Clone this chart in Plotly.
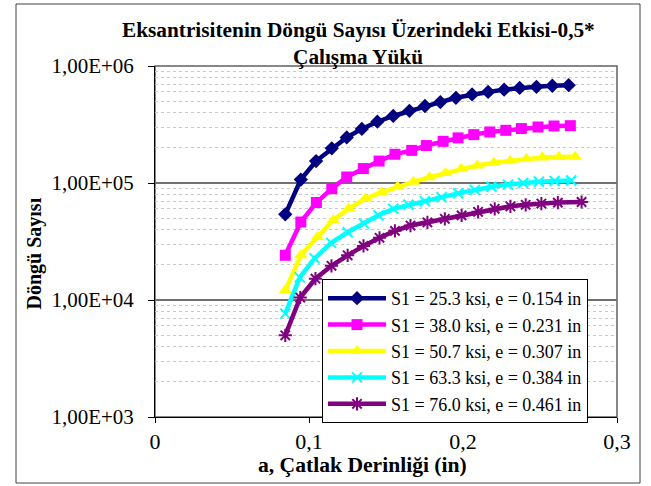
import plotly.graph_objects as go

# ---- data ----
series_names = [
    "S1 = 25.3 ksi, e = 0.154 in",
    "S1 = 38.0 ksi, e = 0.231 in",
    "S1 = 50.7 ksi, e = 0.307 in",
    "S1 = 63.3 ksi, e = 0.384 in",
    "S1 = 76.0 ksi, e = 0.461 in",
]

a_s1 = [0.0846, 0.0947, 0.1046, 0.1148, 0.1245, 0.1343, 0.1444, 0.1547, 0.1652, 0.1753,
        0.1853, 0.1954, 0.2059, 0.2163, 0.2267, 0.2368, 0.2477, 0.2580, 0.2686]
n_s1 = [54000, 107000, 154000, 198000, 245000, 290000, 334000, 374000, 414000, 455000,
        492000, 535000, 572000, 600000, 628000, 650000, 664000, 678000, 686000]

a_s2 = [0.0846, 0.0947, 0.1048, 0.1148, 0.1245, 0.1353, 0.1455, 0.1558, 0.1667, 0.1762,
        0.1871, 0.1968, 0.2070, 0.2174, 0.2278, 0.2379, 0.2487, 0.2591, 0.2697]
n_s2 = [24100, 46400, 68100, 89500, 112500, 132800, 154000, 176000, 190000, 209000,
        227000, 243000, 259000, 273000, 282000, 292000, 301000, 307000, 309000]

a_s3 = [0.0846, 0.0947, 0.1055, 0.1157, 0.1258, 0.1366, 0.1471, 0.1575, 0.1678, 0.1782,
        0.1886, 0.1989, 0.2093, 0.2200, 0.2307, 0.2412, 0.2515, 0.2623, 0.2729]
n_s3 = [12100, 24100, 34500, 48000, 60400, 73600, 83300, 92800, 102400, 111900,
        121700, 132200, 141200, 148900, 154800, 161000, 164800, 166800, 167500]

a_s4 = [0.0846, 0.0940, 0.1037, 0.1144, 0.1251, 0.1357, 0.1451, 0.1547, 0.1646, 0.1753,
        0.1861, 0.1969, 0.2077, 0.2185, 0.2292, 0.2390, 0.2493, 0.2595, 0.2703]
n_s4 = [7650, 15600, 22700, 30800, 37900, 45000, 52900, 60200, 65100, 69800,
        75500, 81600, 87400, 92800, 96900, 100000, 102400, 104000, 104900]

a_s5 = [0.0846, 0.0943, 0.1042, 0.1146, 0.1251, 0.1354, 0.1458, 0.1558, 0.1659, 0.1769,
        0.1882, 0.1991, 0.2098, 0.2206, 0.2308, 0.2407, 0.2509, 0.2616, 0.2770]
n_s5 = [4990, 10500, 15200, 19600, 24100, 29000, 34000, 39000, 43300, 46100,
        49400, 52900, 56700, 60200, 63200, 65100, 66700, 68000, 68800]

x_tickvals = [0, 0.1, 0.2, 0.3]
x_ticktext = ["0", "0,1", "0,2", "0,3"]
y_tickvals = [1e3, 1e4, 1e5, 1e6]
y_ticktext = ["1,00E+03", "1,00E+04", "1,00E+05", "1,00E+06"]

title_line1 = "<b>Eksantrisitenin Döngü Sayısı Üzerindeki Etkisi-0,5*</b>"
title_line2 = "<b>Çalışma Yükü</b>"
x_title = "<b>a, Çatlak Derinliği (in)</b>"
y_title = "<b>Döngü Sayısı</b>"

# ---- styles ----
FONT = "Liberation Serif"
styles = [
    dict(color="#000080", symbol="diamond", size=11, mline=0),
    dict(color="#FF00FF", symbol="square", size=11, mline=0),
    dict(color="#FFFF00", symbol="triangle-up", size=12, mline=0),
    dict(color="#00FFFF", symbol="x-thin-open", size=10, mline=2),
    dict(color="#800080", symbol="asterisk-open", size=11, mline=2),
]
xs = [a_s1, a_s2, a_s3, a_s4, a_s5]
ys = [n_s1, n_s2, n_s3, n_s4, n_s5]

fig = go.Figure()
for name, x, y, st in zip(series_names, xs, ys, styles):
    fig.add_trace(go.Scatter(
        x=x, y=y, name=name, mode="lines+markers",
        line=dict(color=st["color"], width=4.5),
        marker=dict(symbol=st["symbol"], size=st["size"], color=st["color"],
                    line=dict(color=st["color"], width=st["mline"])),
    ))

W, H = 651, 486
L, R, T, B = 155, 617, 66, 417
pw, ph = R - L, B - T

def px(xp):
    return (xp - L) / pw

def py(yp):
    return (B - yp) / ph

fig.update_layout(
    width=W, height=H,
    margin=dict(l=L, r=W - R, t=T, b=H - B),
    paper_bgcolor="white", plot_bgcolor="white",
    font=dict(family=FONT, color="black"),
    showlegend=True,
    legend=dict(x=px(322), y=py(279), xanchor="left", yanchor="top",
                bgcolor="white", bordercolor="black", borderwidth=1,
                font=dict(family=FONT, size=18, color="black"),
                itemwidth=58, tracegroupgap=0),
    xaxis=dict(range=[0, 0.3], tickvals=x_tickvals, ticktext=x_ticktext,
               showgrid=False, zeroline=False, showline=True, linecolor="black",
               linewidth=1, ticks="outside", ticklen=5, tickcolor="black",
               tickfont=dict(family=FONT, size=22, color="black")),
    yaxis=dict(type="log", range=[3, 6], tickvals=y_tickvals, ticktext=y_ticktext,
               showgrid=True, gridcolor="#707070", gridwidth=1.5,
               zeroline=False, showline=True, linecolor="black", linewidth=1,
               ticks="outside", ticklen=6, tickcolor="black",
               ticklabelstandoff=10,
               tickfont=dict(family=FONT, size=21, color="black"),
               minor=dict(dtick="D1", showgrid=True, gridcolor="#C8C8C8",
                          griddash="dot", gridwidth=1, ticks="")),
    annotations=[
        dict(text=title_line1, xref="paper", yref="paper", x=px(358), y=py(30),
             xanchor="center", yanchor="middle", showarrow=False,
             font=dict(family=FONT, size=21.3, color="black")),
        dict(text=title_line2, xref="paper", yref="paper", x=px(358), y=py(57),
             xanchor="center", yanchor="middle", showarrow=False,
             font=dict(family=FONT, size=21.3, color="black")),
        dict(text=x_title, xref="paper", yref="paper", x=px(362), y=py(465),
             xanchor="center", yanchor="middle", showarrow=False,
             font=dict(family=FONT, size=21.6, color="black")),
        dict(text=y_title, xref="paper", yref="paper", x=px(34.5), y=py(253),
             xanchor="center", yanchor="middle", showarrow=False, textangle=-90,
             font=dict(family=FONT, size=20, color="black")),
    ],
    shapes=[
        dict(type="rect", xref="paper", yref="paper", x0=0, x1=1, y0=0, y1=1,
             line=dict(color="#606060", width=1.5), layer="below"),
        dict(type="rect", xref="paper", yref="paper",
             x0=px(16), x1=px(640), y0=py(483), y1=py(4),
             line=dict(color="#404040", width=1), layer="below"),
    ],
)

fig.write_html("out.html")
